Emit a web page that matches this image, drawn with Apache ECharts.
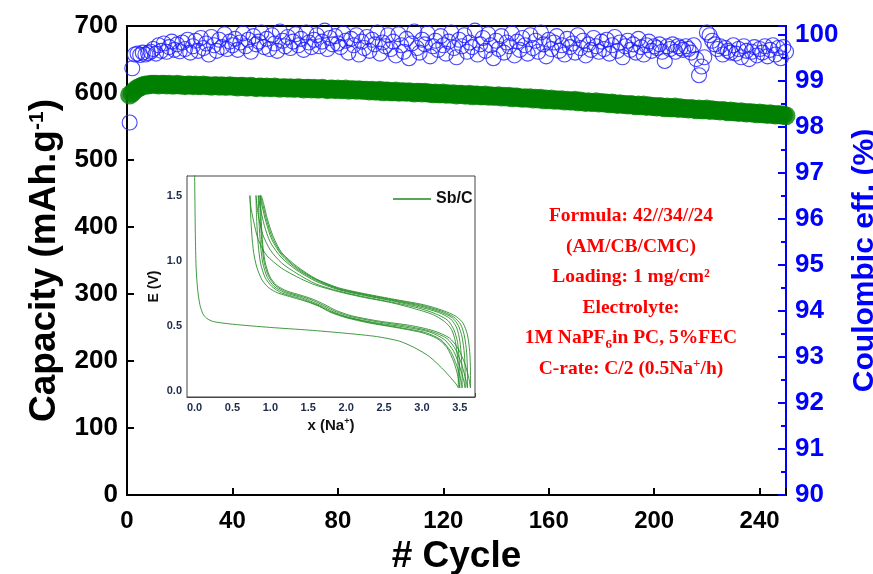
<!DOCTYPE html>
<html>
<head>
<meta charset="utf-8">
<script src="https://cdn.jsdelivr.net/npm/echarts@6/dist/echarts.min.js"></script>
<style>
html,body{margin:0;padding:0;background:#fff;}
#chart{width:873px;height:574px;}
</style>
</head>
<body>
<div id="chart"></div>
<script>
// capacity (mAh/g) per cycle, cycles 1..250
var capacity=[
597,600,604,607,609,611,612,612,613,613,
613,612,613,613,612,613,612,612,613,612,
612,611,612,612,611,612,611,611,612,611,
611,610,611,611,610,611,610,610,611,610,
610,609,610,610,609,609,610,609,608,609,
609,608,609,608,608,609,608,607,608,608,
607,608,607,607,608,607,606,607,607,606,
607,606,606,607,606,605,606,606,605,606,
605,605,606,604,605,605,604,605,604,604,
604,603,604,603,603,604,602,603,603,602,
602,603,601,602,602,601,602,601,600,601,
601,600,601,600,600,599,600,599,599,600,
598,599,598,599,597,598,598,597,597,598,
596,597,597,596,596,597,595,596,595,595,
596,594,595,594,595,593,594,594,593,592,
593,592,593,591,592,591,592,590,591,590,
591,589,590,589,590,588,589,588,588,589,
587,588,587,586,587,586,586,587,585,586,
585,585,584,585,584,583,584,583,583,582,
583,582,581,582,581,582,580,581,580,580,
579,580,579,578,579,578,578,579,577,578,
577,577,576,577,576,575,576,575,575,576,
574,575,574,574,573,574,573,572,573,572,
572,571,572,571,570,571,570,570,569,570,
569,569,568,569,568,567,568,567,567,566
];
// coulombic efficiency (%) per cycle
var efficiency=[
98.10,99.28,99.58,99.60,99.57,99.62,99.58,99.61,99.64,99.70,
99.60,99.78,99.66,99.82,99.64,99.74,99.86,99.68,99.80,99.65,
99.84,99.70,99.90,99.62,99.76,99.88,99.66,99.94,99.72,99.82,
99.58,99.96,99.78,99.66,99.90,99.74,100.02,99.70,99.86,99.78,
99.92,99.68,99.84,100.04,99.76,99.90,99.64,99.98,99.80,99.86,
100.06,99.74,99.92,99.70,100.00,99.82,99.66,100.08,99.88,99.76,
99.96,99.72,99.86,100.02,99.78,99.92,99.68,100.06,99.84,99.74,
99.90,100.00,99.76,99.86,100.10,99.70,99.94,99.80,99.98,99.82,
99.74,100.04,99.88,99.62,99.92,99.78,100.00,99.58,99.86,99.72,
99.96,99.66,99.90,99.80,100.06,99.60,99.84,99.76,100.00,99.70,
99.86,99.56,100.02,99.78,99.64,99.92,99.50,99.82,100.08,99.72,
99.62,99.90,99.80,100.04,99.54,99.76,99.88,99.68,99.98,99.78,
99.60,99.86,100.06,99.72,99.52,99.90,99.76,100.00,99.64,99.84,
99.74,100.10,99.58,99.80,99.94,99.66,100.02,99.78,99.50,99.88,
99.70,99.98,99.62,99.84,99.76,100.04,99.56,99.86,99.68,99.94,
99.78,99.60,100.00,99.72,99.88,99.64,100.06,99.80,99.54,99.90,
99.70,99.84,99.98,99.66,99.78,99.58,99.92,99.74,99.82,99.62,
100.00,99.72,99.88,99.56,99.80,99.68,99.94,99.76,99.64,99.86,
99.70,99.90,99.60,99.78,99.96,99.66,99.84,99.52,99.76,99.88,
99.68,99.80,99.62,99.92,99.74,99.58,99.78,99.86,99.66,99.76,
99.72,99.80,99.64,99.44,99.76,99.70,99.80,99.64,99.76,99.72,
99.68,99.76,99.70,99.62,99.78,99.48,99.13,99.32,99.52,100.06,
100.00,99.88,99.80,99.70,99.76,99.58,99.72,99.66,99.62,99.78,
99.60,99.70,99.52,99.76,99.66,99.48,99.64,99.74,99.56,99.70,
99.62,99.76,99.54,99.68,99.78,99.58,99.72,99.50,99.74,99.64
];
var xTicks=[0,40,80,120,160,200,240];

// inset: galvanostatic curves, [x(Na+), E(V)]
var dis1=[[0.00,1.70],[0.01,1.20],[0.02,0.95],[0.04,0.78],[0.07,0.66],[0.11,0.59],[0.16,0.555],[0.25,0.53],[0.5,0.51],[1.0,0.485],[1.5,0.465],[2.0,0.44],[2.4,0.415],[2.7,0.38],[2.9,0.33],[3.1,0.26],[3.3,0.15],[3.45,0.05],[3.48,0.02]];
var cha1=[[3.48,0.02],[3.48,0.12],[3.47,0.25],[3.44,0.38],[3.39,0.47],[3.3,0.53],[3.14,0.585],[2.9,0.63],[2.6,0.675],[2.2,0.72],[1.9,0.76],[1.6,0.81],[1.4,0.86],[1.15,0.94],[0.95,1.04],[0.84,1.16],[0.78,1.3],[0.74,1.42],[0.73,1.5]];
var dis2=[[0.73,1.5],[0.74,1.35],[0.755,1.2],[0.78,1.06],[0.82,0.95],[0.89,0.85],[0.98,0.79],[1.1,0.75],[1.3,0.715],[1.5,0.68],[1.65,0.645],[1.8,0.6],[2.0,0.56],[2.3,0.52],[2.7,0.48],[3.0,0.445],[3.2,0.4],[3.33,0.33],[3.42,0.22],[3.47,0.12],[3.5,0.02]];
var cha2=[[3.5,0.02],[3.5,0.12],[3.49,0.25],[3.47,0.37],[3.42,0.47],[3.34,0.54],[3.18,0.59],[2.95,0.635],[2.6,0.68],[2.2,0.725],[1.9,0.765],[1.6,0.82],[1.35,0.9],[1.15,0.98],[1.0,1.08],[0.9,1.2],[0.84,1.35],[0.81,1.5]];
var dis3=[[0.81,1.5],[0.82,1.3],[0.84,1.12],[0.87,0.98],[0.93,0.87],[1.02,0.8],[1.15,0.75],[1.35,0.715],[1.5,0.685],[1.65,0.65],[1.8,0.605],[2.0,0.565],[2.3,0.525],[2.7,0.485],[3.05,0.445],[3.25,0.39],[3.38,0.3],[3.46,0.19],[3.51,0.09],[3.53,0.02]];
var cha3=[[3.53,0.02],[3.53,0.12],[3.52,0.26],[3.5,0.38],[3.46,0.48],[3.38,0.55],[3.22,0.6],[2.95,0.645],[2.6,0.69],[2.2,0.735],[1.9,0.775],[1.6,0.84],[1.35,0.925],[1.15,1.02],[1.0,1.14],[0.92,1.27],[0.87,1.4],[0.84,1.5]];
var dis4=[[0.84,1.5],[0.85,1.3],[0.87,1.12],[0.9,0.98],[0.96,0.87],[1.05,0.8],[1.18,0.755],[1.38,0.72],[1.52,0.69],[1.68,0.65],[1.83,0.605],[2.02,0.565],[2.35,0.525],[2.75,0.49],[3.1,0.45],[3.3,0.39],[3.42,0.3],[3.5,0.18],[3.55,0.08],[3.57,0.02]];
var cha4=[[3.57,0.02],[3.57,0.14],[3.56,0.28],[3.53,0.41],[3.48,0.5],[3.4,0.56],[3.24,0.605],[2.98,0.65],[2.6,0.695],[2.2,0.74],[1.9,0.78],[1.6,0.85],[1.35,0.935],[1.15,1.04],[1.02,1.16],[0.94,1.3],[0.89,1.42],[0.86,1.5]];
var dis5=[[0.86,1.5],[0.87,1.3],[0.89,1.12],[0.92,0.98],[0.98,0.875],[1.07,0.805],[1.2,0.76],[1.4,0.725],[1.55,0.695],[1.7,0.655],[1.85,0.61],[2.05,0.57],[2.4,0.53],[2.8,0.495],[3.12,0.455],[3.33,0.4],[3.45,0.31],[3.53,0.19],[3.58,0.08],[3.6,0.02]];
var cha5=[[3.6,0.02],[3.6,0.14],[3.59,0.29],[3.56,0.42],[3.51,0.51],[3.42,0.565],[3.26,0.61],[3.0,0.655],[2.6,0.7],[2.2,0.745],[1.9,0.785],[1.6,0.855],[1.35,0.945],[1.15,1.05],[1.03,1.17],[0.95,1.31],[0.9,1.43],[0.87,1.5]];
var dis6=[[0.87,1.5],[0.88,1.3],[0.9,1.12],[0.93,0.99],[0.99,0.88],[1.08,0.81],[1.22,0.765],[1.42,0.73],[1.57,0.7],[1.72,0.66],[1.87,0.615],[2.07,0.575],[2.42,0.535],[2.85,0.5],[3.15,0.46],[3.36,0.405],[3.48,0.32],[3.57,0.2],[3.62,0.09],[3.64,0.02]];
var cha6=[[3.64,0.02],[3.64,0.15],[3.63,0.3],[3.6,0.43],[3.54,0.52],[3.45,0.57],[3.28,0.615],[3.02,0.66],[2.6,0.705],[2.2,0.75],[1.9,0.79],[1.6,0.86],[1.35,0.955],[1.15,1.06],[1.04,1.18],[0.96,1.32],[0.91,1.44],[0.88,1.5]];
var insetCurves=[dis1,cha1,dis2,cha2,dis3,cha3,dis4,cha4,dis5,cha5,dis6,cha6];

var notes=[
'Formula: 42//34//24',
'(AM/CB/CMC)',
'Loading: 1 mg/cm\u00b2',
'Electrolyte:',
'1M NaPF{sub|6}in PC, 5%FEC',
'C-rate: C/2 (0.5Na{sup|+}/h)'
];

var capData=[],ceData=[];
for(var i=0;i<capacity.length;i++){
    capData.push([i+1,capacity[i]]);
    ceData.push([i+1,efficiency[i]]);
}

var sans='"Liberation Sans", Arial, sans-serif';
var serif='"Liberation Serif", "Times New Roman", serif';

var series=[{
    name:'capacity',type:'scatter',xAxisIndex:0,yAxisIndex:0,
    symbol:'circle',symbolSize:19,
    itemStyle:{color:'#008000'},
    data:capData,z:3
},{
    name:'ce',type:'scatter',xAxisIndex:0,yAxisIndex:1,
    symbol:'circle',symbolSize:15,
    itemStyle:{color:'rgba(0,0,0,0)',borderColor:'#1a1aff',borderWidth:1.1},
    data:ceData,z:4
}];
insetCurves.forEach(function(c){
    series.push({
        name:'Sb/C',type:'line',xAxisIndex:2,yAxisIndex:2,
        showSymbol:false,smooth:0.25,
        lineStyle:{color:'#1f8a1f',width:1,opacity:0.85},
        itemStyle:{color:'#1f8a1f'},
        data:c,z:10
    });
});

var graphics=notes.map(function(t,k){
    return {
        type:'text',x:631,y:216+k*30.5,z:20,
        style:{
            text:t,fill:'#ff0000',font:'bold 19.5px '+serif,
            textAlign:'center',textVerticalAlign:'middle',
            rich:{
                sub:{fontSize:13,fontWeight:'bold',fontFamily:serif,fill:'#ff0000',padding:[13,0,0,0]},
                sup:{fontSize:13,fontWeight:'bold',fontFamily:serif,fill:'#ff0000',padding:[0,0,9,0]}
            }
        }
    };
});

var chart=echarts.init(document.getElementById('chart'));
chart.setOption({
    animation:false,
    backgroundColor:'#fff',
    grid:[
        {left:127,right:87,top:26,bottom:79,outerBoundsMode:'none',containLabel:false},
        {left:187,right:398,top:176,bottom:177,outerBoundsMode:'none',containLabel:false,show:true,backgroundColor:'#fff',borderColor:'#444',borderWidth:1,z:8}
    ],
    legend:{
        data:['Sb/C'],left:388,top:186,
        icon:'rect',itemWidth:38,itemHeight:1.5,itemGap:4,
        textStyle:{color:'#111',fontSize:16,fontWeight:'bold',fontFamily:sans},
        z:12
    },
    xAxis:[{
        type:'value',gridIndex:0,min:0,max:250,interval:40,
        name:'# Cycle',nameLocation:'middle',nameGap:42,
        nameTextStyle:{color:'#000',fontSize:37,fontWeight:'bold',fontFamily:sans},
        axisLine:{show:true,onZero:false,lineStyle:{color:'#000',width:2}},
        axisTick:{show:true,inside:true,length:7,lineStyle:{color:'#000',width:2}},
        axisLabel:{color:'#000',fontSize:24,fontWeight:'bold',fontFamily:sans,margin:14,
            formatter:function(v){return xTicks.indexOf(v)>=0?String(v):'';}},
        splitLine:{show:false}
    },{
        type:'value',gridIndex:0,position:'top',min:0,max:250,
        axisLine:{show:true,onZero:false,lineStyle:{color:'#000',width:2}},
        axisTick:{show:false},axisLabel:{show:false},splitLine:{show:false}
    },{
        type:'value',gridIndex:1,min:-0.1,max:3.7,minInterval:0.5,maxInterval:0.5,
        name:'x (Na{sup|+})',nameLocation:'middle',nameGap:20,
        nameTextStyle:{color:'#111',fontSize:15,fontWeight:'bold',fontFamily:sans,
            rich:{sup:{fontSize:9,fontWeight:'bold',fontFamily:sans,color:'#111',padding:[0,0,8,0]}}},
        axisLine:{show:true,onZero:false,lineStyle:{color:'#444',width:1}},
        axisTick:{show:true,inside:true,length:4,lineStyle:{color:'#444'}},
        minorTick:{show:true,splitNumber:2,length:2,lineStyle:{color:'#444'}},
        axisLabel:{color:'#1c2a48',fontSize:11,fontWeight:'bold',fontFamily:sans,margin:5,
            formatter:function(v){var r=Math.round(v*2)/2;return Math.abs(r-v)<1e-6?v.toFixed(1):'';}},
        splitLine:{show:false}
    }],
    yAxis:[{
        type:'value',gridIndex:0,min:0,max:700,interval:100,
        name:'Capacity (mAh.g{sup|-1})',nameLocation:'middle',nameGap:62,
        nameTextStyle:{color:'#000',fontSize:37,fontWeight:'bold',fontFamily:sans,
            rich:{sup:{fontSize:21,fontWeight:'bold',fontFamily:sans,color:'#000',padding:[0,0,16,0]}}},
        axisLine:{show:true,onZero:false,lineStyle:{color:'#000',width:2}},
        axisTick:{show:true,inside:true,length:7,lineStyle:{color:'#000',width:2}},
        axisLabel:{color:'#000',fontSize:26,fontWeight:'bold',fontFamily:sans,margin:9},
        splitLine:{show:false}
    },{
        type:'value',gridIndex:0,position:'right',min:90,max:100.2,interval:1,
        name:'Coulombic eff. (%)',nameLocation:'middle',nameGap:57,
        nameTextStyle:{color:'#0000ff',fontSize:30,fontWeight:'bold',fontFamily:sans},
        axisLine:{show:true,onZero:false,lineStyle:{color:'#0000ff',width:2}},
        axisTick:{show:true,inside:true,length:8,lineStyle:{color:'#0000ff',width:2}},
        minorTick:{show:true,splitNumber:2,length:5,lineStyle:{color:'#0000ff',width:2}},
        axisLabel:{color:'#0000ff',fontSize:26,fontWeight:'bold',fontFamily:sans,margin:9,
            formatter:function(v){return Math.abs(v-Math.round(v))<1e-6?String(Math.round(v)):'';}},
        splitLine:{show:false}
    },{
        type:'value',gridIndex:1,min:-0.05,max:1.65,minInterval:0.5,maxInterval:0.5,
        name:'E (V)',nameLocation:'middle',nameGap:26,
        nameTextStyle:{color:'#111',fontSize:14,fontWeight:'bold',fontFamily:sans},
        axisLine:{show:true,onZero:false,lineStyle:{color:'#444',width:1}},
        axisTick:{show:true,inside:true,length:4,lineStyle:{color:'#444'}},
        minorTick:{show:true,splitNumber:2,length:2,lineStyle:{color:'#444'}},
        axisLabel:{color:'#1c2a48',fontSize:11,fontWeight:'bold',fontFamily:sans,margin:5,
            formatter:function(v){var r=Math.round(v*2)/2;return Math.abs(r-v)<1e-6?v.toFixed(1):'';}},
        splitLine:{show:false}
    }],
    graphic:graphics,
    series:series
});
</script>
</body>
</html>
